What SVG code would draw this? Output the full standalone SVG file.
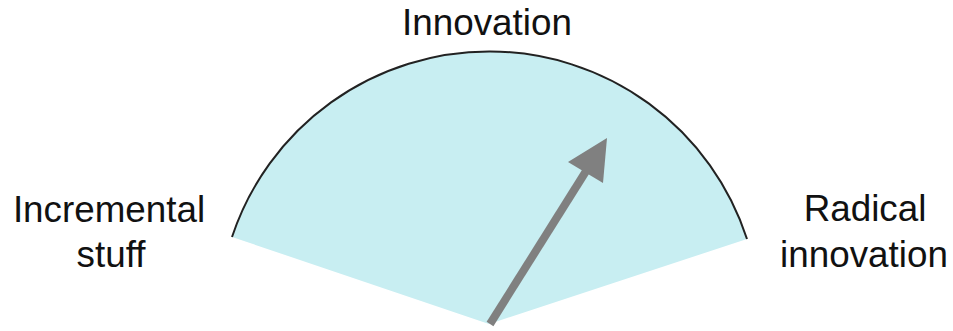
<svg xmlns="http://www.w3.org/2000/svg" width="953" height="331" viewBox="0 0 953 331">
<style>
.lbl{font-family:"Liberation Sans",Arial,sans-serif;font-size:36.8px;fill:#111;text-anchor:middle}
</style>
<rect width="953" height="331" fill="#fff"/>
<g id="gauge">
<path d="M232,237 A271,271 0 0 1 747,239 L489,324 Z" fill="#C8EEF2"/>
<path d="M232,237 A271,271 0 0 1 747,239" fill="none" stroke="#222" stroke-width="2"/>
</g>
<g id="connectors">
<line x1="490" y1="324" x2="588" y2="168" stroke="#808080" stroke-width="8"/>
<polygon points="607,138 568,162 603,183" fill="#808080"/>
</g>
<g id="label-top"><text class="lbl" x="487" y="35">Innovation</text></g>
<g id="label-left"><text class="lbl" x="109" y="222">Incremental</text><text class="lbl" x="111" y="267">stuff</text></g>
<g id="label-right"><text class="lbl" x="865" y="221">Radical</text><text class="lbl" x="864" y="267">innovation</text></g>
</svg>
